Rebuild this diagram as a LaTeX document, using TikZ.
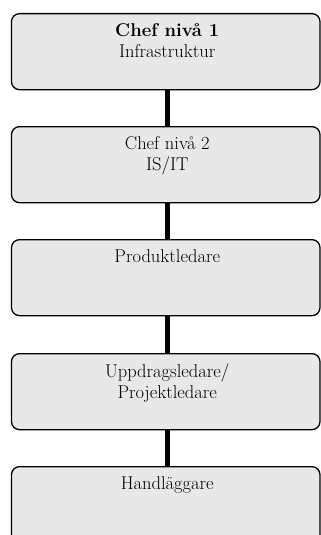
\documentclass[tikz,border=0pt]{standalone}
\usetikzlibrary{positioning}
\definecolor{boxfill}{RGB}{232,232,232}
\begin{document}
\begin{tikzpicture}[x=1pt,y=-1pt,
  box/.style={draw=black, line width=1.3pt, fill=boxfill, rounded corners=8pt,
    minimum width=308.5pt, minimum height=76pt, inner sep=0pt, anchor=north},
  lbl/.style={font=\fontsize{18.5}{21}\selectfont, align=center, inner sep=0pt, anchor=north},
  link/.style={line width=5pt, black}]
  \useasboundingbox (0,0) rectangle (321,535);
  % boxes of the chain, top to bottom
  \node[box] (b1) at (165.75,13) {};
  \node[box] (b2) at (165.75,126) {};
  \node[box] (b3) at (165.75,239) {};
  \node[box] (b4) at (165.75,353) {};
  \node[box] (b5) at (165.75,466) {};
  % links between consecutive boxes
  \draw[link] ([xshift=2pt]b1.south) -- ([xshift=2pt]b2.north);
  \draw[link] ([xshift=2pt]b2.south) -- ([xshift=2pt]b3.north);
  \draw[link] ([xshift=2pt]b3.south) -- ([xshift=2pt]b4.north);
  \draw[link] ([xshift=2pt]b4.south) -- ([xshift=2pt]b5.north);
  % titles
  \node[lbl] (t1) at ([xshift=1.5pt,yshift=-10pt]b1.north) {\textbf{Chef nivå 1}\\Infrastruktur};
  \node[lbl] (t2) at ([xshift=1.5pt,yshift=-10pt]b2.north) {Chef nivå 2\\IS/IT};
  \node[lbl] (t3) at ([xshift=1.5pt,yshift=-10pt]b3.north) {Produktledare};
  \node[lbl] (t4) at ([xshift=1.5pt,yshift=-10pt]b4.north) {Uppdragsledare/\\Projektledare};
  \node[lbl] (t5) at ([xshift=1.5pt,yshift=-10pt]b5.north) {Handläggare};
\end{tikzpicture}
\end{document}
